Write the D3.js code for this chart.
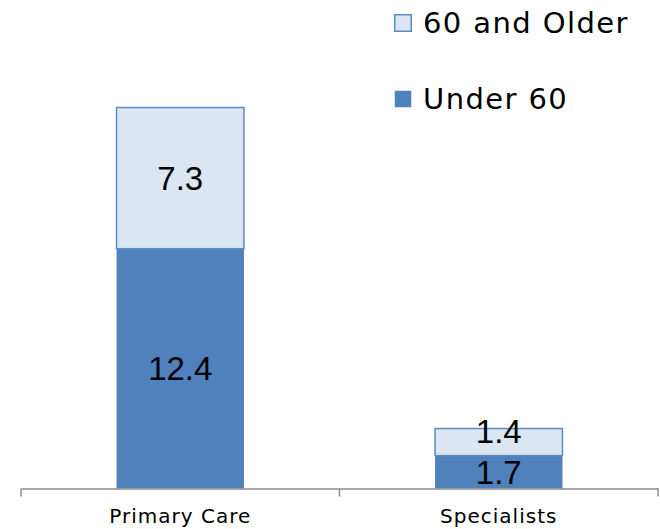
<!DOCTYPE html>
<html>
<head>
<meta charset="utf-8">
<script src="https://cdn.jsdelivr.net/npm/d3@7"></script>
<style>
  html, body { margin: 0; padding: 0; background: #fff; }
  svg { display: block; }
</style>
</head>
<body>
<svg id="chart" width="660" height="529"></svg>
<script>
// Physician counts by age group
const categories = ["Primary Care", "Specialists"];
const under60 = [12.4, 1.7];
const older60 = [7.3, 1.4];
const seriesNames = ["Under 60", "60 and Older"];
const seriesColors = ["#4F81BD", "#DCE6F2"];

const rows = categories.map((c, i) => ({ category: c, "Under 60": under60[i], "60 and Older": older60[i] }));
const stacked = d3.stack().keys(seriesNames)(rows);

const svg = d3.select("#chart");
const baseY = 488.5;

const x = d3.scaleBand().domain(categories).range([21, 658]);
const y = d3.scaleLinear().domain([0, 20]).range([baseY, baseY - 20 * 19.34]);
const color = d3.scaleOrdinal().domain(seriesNames).range(seriesColors);

const barW = x.bandwidth() * 0.4;
const barX = c => x(c) + (x.bandwidth() - barW) / 2;

// stacked bars
const layers = svg.append("g").selectAll("g")
  .data(stacked)
  .join("g")
  .attr("fill", d => color(d.key));

layers.selectAll("rect")
  .data(d => d.map(p => ({ key: d.key, p })))
  .join("rect")
  .attr("x", d => barX(d.p.data.category))
  .attr("width", barW)
  .attr("y", d => y(d.p[1]))
  .attr("height", d => y(d.p[0]) - y(d.p[1]))
  .attr("stroke", d => d.key === "60 and Older" ? "#5B8BC6" : "none")
  .attr("stroke-width", 1.5);

// value labels, centred in each segment; a small top segment's label is lifted clear of the one below
const labelGap = 41;
const labelG = svg.append("g")
  .attr("font-family", "'Liberation Sans', Arial, sans-serif")
  .attr("font-size", 33)
  .attr("fill", "#000")
  .attr("text-anchor", "middle");

categories.forEach((c, i) => {
  const lowSeg = stacked[0][i];
  const topSeg = stacked[1][i];
  const lowY = (y(lowSeg[0]) + y(lowSeg[1])) / 2;
  const topY = Math.min((y(topSeg[0]) + y(topSeg[1])) / 2, lowY - labelGap);
  const cx = x(c) + x.bandwidth() / 2;
  labelG.append("text").attr("x", cx).attr("y", lowY).attr("dy", "0.36em").text(under60[i]);
  labelG.append("text").attr("x", cx).attr("y", topY).attr("dy", "0.36em").text(older60[i]);
});

// category axis
const axisColor = "#8C8C8C";
const axis = svg.append("g")
  .attr("transform", `translate(0,${baseY})`)
  .call(d3.axisBottom(x).tickSize(0).tickPadding(20).tickSizeOuter(0));
axis.select(".domain").attr("stroke", axisColor).attr("stroke-width", 1.5);
axis.selectAll("text")
  .attr("font-family", "'DejaVu Sans', sans-serif")
  .attr("font-size", 20)
  .attr("letter-spacing", 1)
  .attr("fill", "#000");

// divider ticks between categories
const edges = categories.map(c => x(c)).concat([x.range()[1]]);
axis.selectAll("line.edge")
  .data(edges)
  .join("line")
  .attr("class", "edge")
  .attr("x1", d => d).attr("x2", d => d)
  .attr("y1", 0).attr("y2", 8)
  .attr("stroke", axisColor)
  .attr("stroke-width", 1.5);

// legend
const legendItems = ["60 and Older", "Under 60"];
const legend = svg.append("g")
  .attr("font-family", "'DejaVu Sans', sans-serif")
  .attr("font-size", 29)
  .attr("letter-spacing", 1.4);

const item = legend.selectAll("g")
  .data(legendItems)
  .join("g")
  .attr("transform", (d, i) => `translate(394,${23 + i * 76})`);

item.append("rect")
  .attr("x", 0.75).attr("y", -8.25)
  .attr("width", 16.5).attr("height", 16.5)
  .attr("fill", d => color(d))
  .attr("stroke", d => d === "60 and Older" ? "#5B8BC6" : "none")
  .attr("stroke-width", 1.5);

item.append("text")
  .attr("x", 29)
  .attr("y", 0)
  .attr("dy", "0.36em")
  .attr("fill", "#000")
  .text(d => d);
</script>
</body>
</html>
